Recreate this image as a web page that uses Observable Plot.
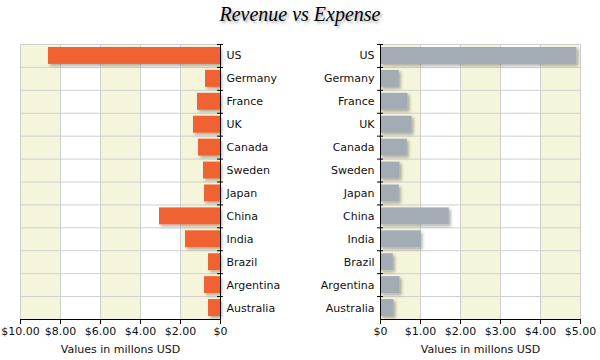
<!DOCTYPE html>
<html>
<head>
<meta charset="utf-8">
<script src="https://cdn.jsdelivr.net/npm/d3@7"></script>
<script src="https://cdn.jsdelivr.net/npm/@observablehq/plot@0.6"></script>
<style>
  body { margin: 0; background: #fff; }
  #wrap { position: relative; width: 600px; height: 360px; overflow: hidden; }
  #title { position: absolute; left: 0; top: 0; width: 600px; height: 28px; line-height: 28px; text-align: center;
    font-family: "Liberation Serif", serif; font-style: italic; font-size: 20px; color: #000;
    text-shadow: 2px 2px 3px rgba(0,0,0,0.35); }
  #left, #right { position: absolute; top: 30px; }
  #left { left: 0; }
  #right { left: 300px; }
</style>
</head>
<body>
<div id="wrap">
  <div id="title">Revenue vs Expense</div>
  <div id="left"></div>
  <div id="right"></div>
</div>
<script>
const categories = ["US","Germany","France","UK","Canada","Sweden","Japan","China","India","Brazil","Argentina","Australia"];
const revenue = [8.6, 0.75, 1.15, 1.35, 1.1, 0.85, 0.8, 3.05, 1.75, 0.6, 0.8, 0.6];
const expense = [4.91, 0.47, 0.69, 0.79, 0.67, 0.49, 0.47, 1.72, 1.01, 0.32, 0.49, 0.34];
const leftTicks = [0, 2, 4, 6, 8, 10];
const rightTicks = [0, 1, 2, 3, 4, 5];
const leftBands = [[0, 2], [4, 6], [8, 10]];
const rightBands = [[0, 1], [2, 3], [4, 5]];
const axisTitle = "Values in millons USD";

const H = 330, MT = 14, MB = 41;
const step = (H - MT - MB) / categories.length;
const fmt = d => d === 0 ? "$0" : "$" + d.toFixed(2);

function panel(values, side, color) {
  const left = side === "left";
  const data = categories.map((c, i) => ({c, v: values[i]}));
  const ticks = left ? leftTicks : rightTicks;
  const bands = left ? leftBands : rightBands;
  const max = ticks[ticks.length - 1];
  const tk = 3 * max / 200;
  const last = [categories[categories.length - 1]];
  const svg = Plot.plot({
    width: 300, height: H, marginTop: MT, marginBottom: MB,
    marginLeft: left ? 20 : 80, marginRight: left ? 80 : 20,
    style: {fontFamily: "DejaVu Sans, Verdana, sans-serif", fontSize: "11px", color: "#111", background: "transparent", overflow: "visible"},
    x: {domain: [0, max], reverse: left, label: null},
    y: {domain: categories, padding: 0, round: false, label: null},
    marks: [
      Plot.rectX(bands, {x1: d => d[0], x2: d => d[1], fill: "#f5f5dc"}),
      Plot.gridX(ticks, {stroke: "#cfcfcf", strokeOpacity: 1}),
      Plot.ruleY(categories, {y: d => d, dy: -step / 2, stroke: "#cfcfcf"}),
      Plot.barX(data, {y: "c", x: "v", fill: color, insetTop: 3, insetBottom: 3}),
      Plot.ruleX([0], {stroke: "#000"}),
      Plot.ruleY(categories, {y: d => d, dy: -step / 2, x1: -tk, x2: tk, stroke: "#000"}),
      Plot.ruleY(last, {y: d => d, dy: step / 2, stroke: "#000"}),
      Plot.axisX({ticks, tickFormat: fmt, tickSize: 5, tickPadding: 3, label: null, fontSize: 11}),
      Plot.axisY({anchor: left ? "right" : "left", tickSize: 0, tickPadding: 6, label: null, fontSize: 11}),
      Plot.text([axisTitle], {frameAnchor: "bottom", dy: 33, fontSize: 11, fill: "#111"})
    ]
  });
  const id = "sh" + side;
  d3.select(svg).insert("defs", ":first-child").html(
    `<filter id="${id}" x="-10%" y="-20%" width="130%" height="160%"><feDropShadow dx="2" dy="2" stdDeviation="1.5" flood-color="#000" flood-opacity="0.3"/></filter>`);
  d3.select(svg).select('g[aria-label="bar"]').attr("filter", `url(#${id})`);
  return svg;
}

document.getElementById("left").appendChild(panel(revenue, "left", "#f06233"));
document.getElementById("right").appendChild(panel(expense, "right", "#a3acb4"));
</script>
</body>
</html>
